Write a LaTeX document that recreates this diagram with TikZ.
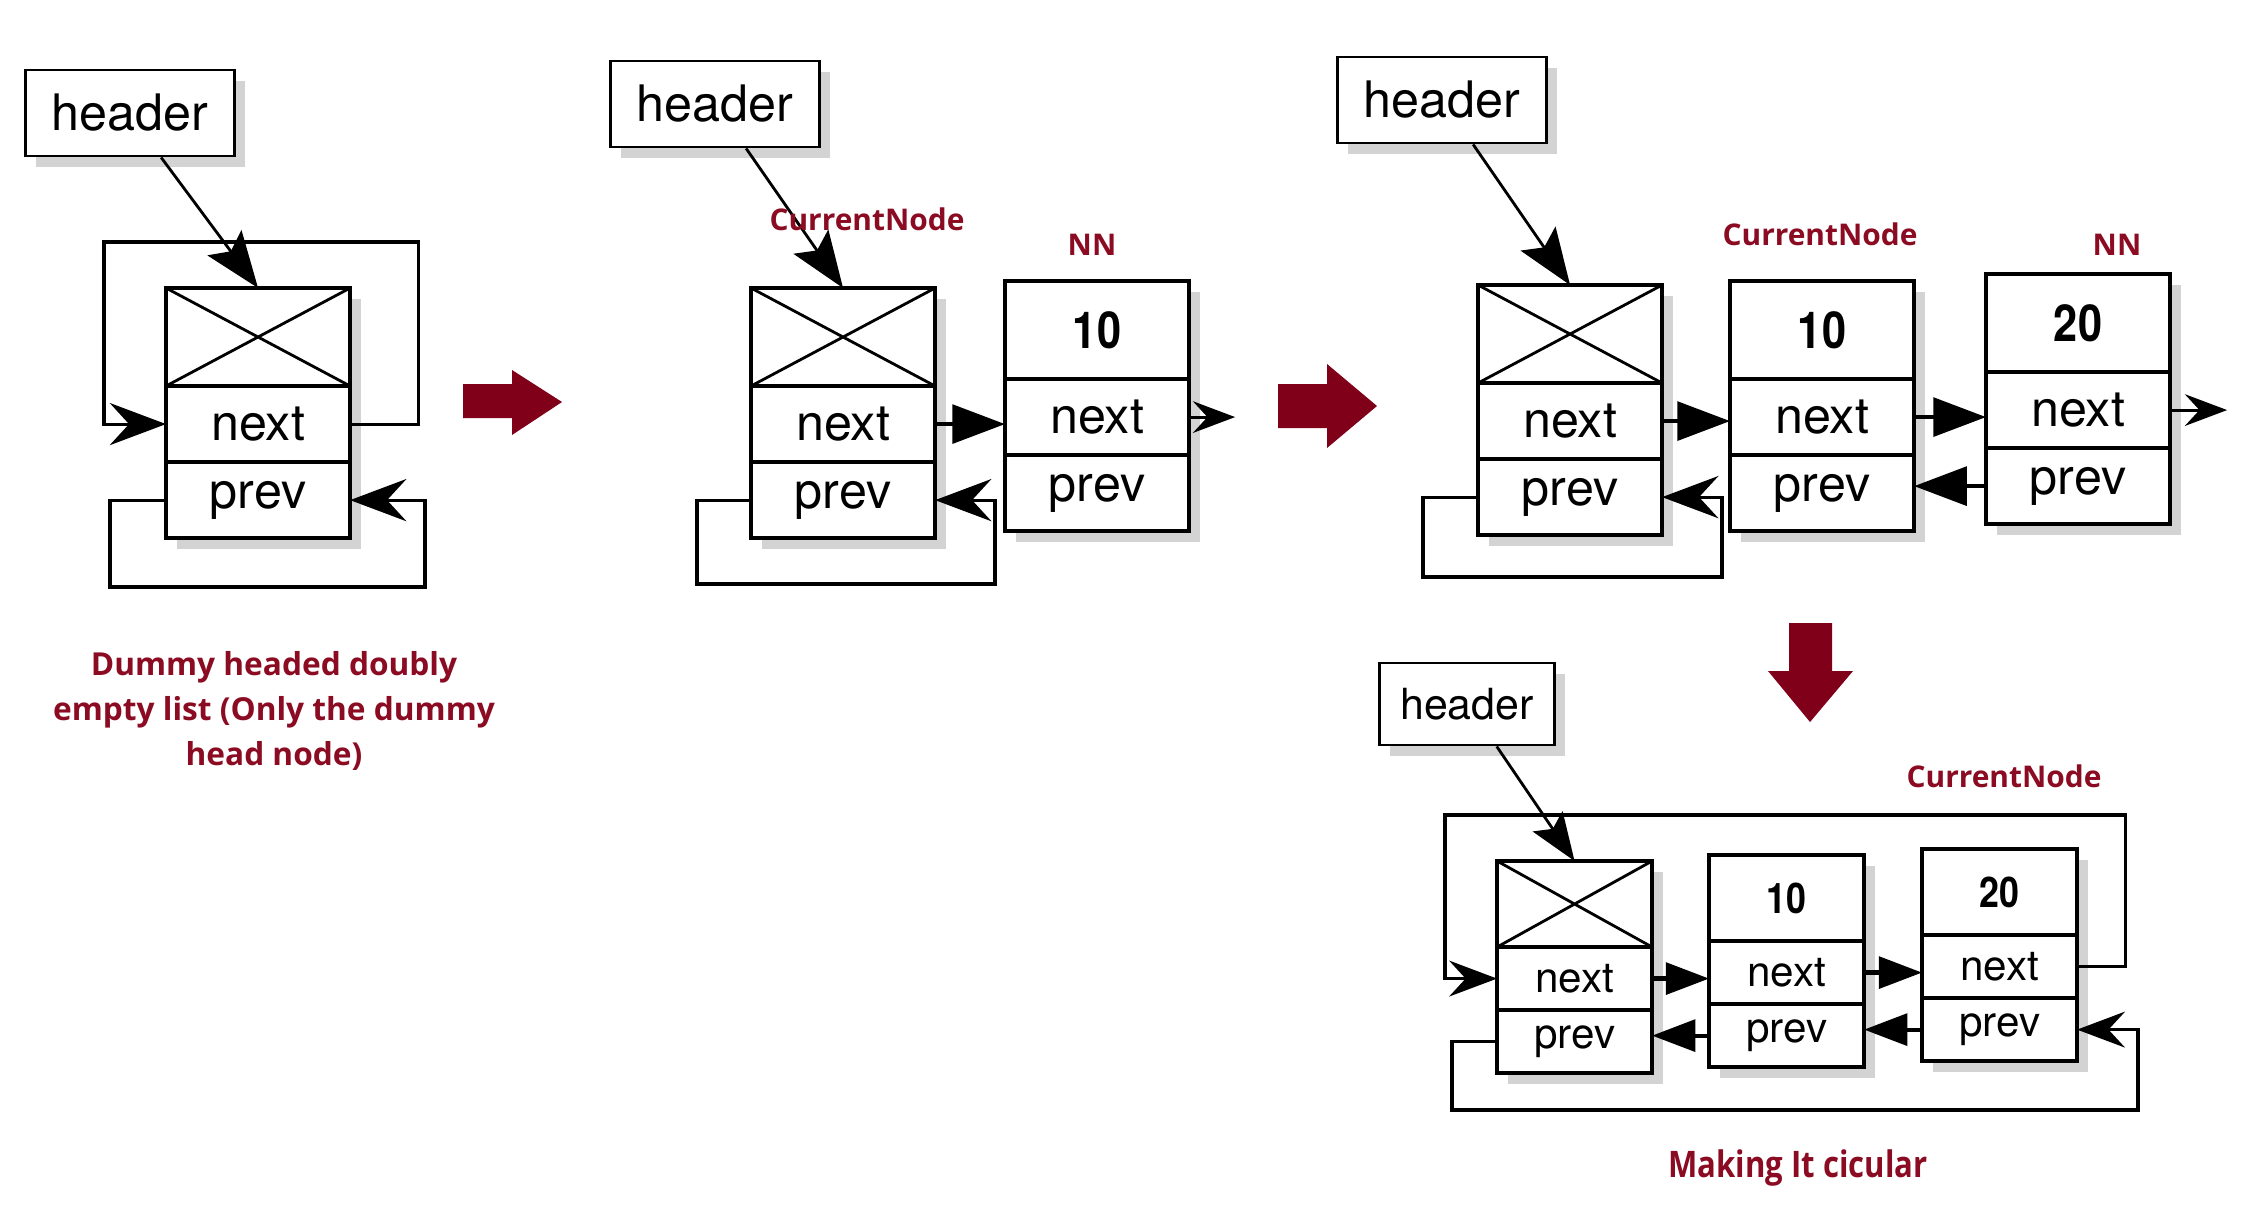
\documentclass[tikz,border=0pt]{standalone}
\usepackage{fontspec}
\usetikzlibrary{arrows.meta,positioning,shadows}
\newfontfamily\helv{TeX Gyre Heros}
\newfontfamily\numfont[FakeStretch=0.85]{TeX Gyre Heros}
\newfontfamily\redfont{Open Sans}
\newfontfamily\redcond[FakeStretch=0.85]{Open Sans}
\definecolor{ArrowClr}{RGB}{128,0,26}
\definecolor{LabelClr}{RGB}{139,12,34}
\definecolor{ShadowClr}{RGB}{80,80,80}

\newcommand\ListNode[4][]{%
  \node[datacell,#1,anchor=north west] (#2d) at (#3) {#4};
  \node[cell,below=0pt of #2d] (#2n) {next};
  \node[cell,below=0pt of #2n] (#2p) {prev};
}

\tikzset{
  soft/.style={drop shadow={opacity=0.25,shadow xshift=3pt,shadow yshift=-3pt,fill=ShadowClr}},
  hdr/.style={draw,line width=0.8pt,fill=white,minimum width=2.09cm,minimum height=0.86cm,
    font=\helv\fontsize{14.3}{16}\selectfont,soft},
  cell/.style={draw,line width=1.3pt,fill=white,outer sep=0pt,inner sep=0pt,
    minimum width=1.84cm,minimum height=0.76cm,font=\helv\fontsize{14.3}{16}\selectfont,soft},
  datacell/.style={cell,minimum height=0.98cm,font=\numfont\bfseries\fontsize{14.5}{16}\selectfont},
  crossed/.style={path picture={\draw[line width=0.8pt]
    (path picture bounding box.north west) -- (path picture bounding box.south east)
    (path picture bounding box.north east) -- (path picture bounding box.south west);}},
  tag/.style={text=LabelClr,font=\redfont\bfseries\fontsize{8.5}{10}\selectfont},
  caption/.style={tag,align=center,font=\redfont\bfseries\fontsize{9}{12.7}\selectfont},
  ptr/.style={line width=0.8pt,-{Stealth[length=16pt,width=12pt,inset=3pt,scale=#1]}},
  ptr/.default=1,
  link/.style={line width=1.2pt,-{Triangle[length=15pt,width=11pt,scale=#1]}},
  link/.default=1,
  back/.style={line width=0.9pt,-{Stealth[length=16pt,width=12pt,inset=5.5pt,scale=#1]}},
  back/.default=1,
}

\begin{document}
\begin{tikzpicture}[x=0.01cm,y=-0.01cm]
\useasboundingbox (0,0) rectangle (2261,1209);

\node[hdr] (h1) at (130,113) {header};
\ListNode[crossed]{a1}{166,288}{}
\draw[ptr] (h1.-55) -- (a1d.north);
\draw[back] (a1n.east) -- ++(68,0) |- (104,242) |- (a1n.west);
\draw[back] (a1p.west) -- ++(-56,0) |- (425,587) |- (a1p.east);
\node[caption] (cap1) at (274,711) {Dummy headed doubly\\empty list (Only the dummy\\head node)};

\fill[ArrowClr] (463,384) -- (512,384) -- (512,370) -- (562,402) -- (512,435) -- (512,418) -- (463,418) -- cycle;

\node[hdr] (h2) at (715,104) {header};
\ListNode[crossed]{b1}{751,288}{}
\ListNode{b2}{1005,281}{10}
\draw[ptr] (h2.-55) -- (b1d.north);
\node[tag] (cur2) at (867,219) {CurrentNode};
\node[tag] (nn2) at (1092,245) {NN};
\draw[link] (b1n.east) -- (b1n.east -| b2n.west);
\draw[back] (b1p.west) -- ++(-54,0) |- (995,584) |- (b1p.east);
\draw[back=0.75] (b2n.east) -- ++(46,0);

\fill[ArrowClr] (1278,384) -- (1327,384) -- (1327,364) -- (1377,406) -- (1327,448) -- (1327,428) -- (1278,428) -- cycle;

\node[hdr] (h3) at (1442,100) {header};
\ListNode[crossed]{c1}{1478,285}{}
\ListNode{c2}{1730,281}{10}
\ListNode{c3}{1986,274}{20}
\draw[ptr] (h3.-55) -- (c1d.north);
\node[tag] (cur3) at (1820,234) {CurrentNode};
\node[tag] (nn3) at (2117,245) {NN};
\draw[link] (c1n.east) -- (c1n.east -| c2n.west);
\draw[link] (c2n.east) -- (c2n.east -| c3n.west);
\draw[link] (c3p.west) -- (c3p.west -| c2p.east);
\draw[back] (c1p.west) -- ++(-55,0) |- (1722,577) |- (c1p.east);
\draw[back=0.75] (c3n.east) -- ++(57,0);

\fill[ArrowClr] (1789,623) -- (1832,623) -- (1832,671) -- (1853,671) -- (1810,722) -- (1768,671) -- (1789,671) -- cycle;

\begin{scope}[cell/.append style={minimum width=1.55cm,minimum height=0.63cm,font=\helv\fontsize{12}{14}\selectfont},
  datacell/.append style={minimum height=0.86cm,font=\numfont\bfseries\fontsize{12}{14}\selectfont},
  hdr/.append style={minimum width=1.75cm,minimum height=0.82cm,font=\helv\fontsize{12.2}{14}\selectfont}]
\node[hdr] (h4) at (1467,704) {header};
\ListNode[crossed]{d1}{1497,861}{}
\ListNode{d2}{1709,855}{10}
\ListNode{d3}{1922,849}{20}
\draw[ptr=0.85] (h4.-55) -- (d1d.north);
\node[tag] (cur4) at (2004,776) {CurrentNode};
\draw[link=0.82] (d1n.east) -- (d1n.east -| d2n.west);
\draw[link=0.82] (d2n.east) -- (d2n.east -| d3n.west);
\draw[link=0.82] (d3p.west) -- (d3p.west -| d2p.east);
\draw[link=0.82] (d2p.west) -- (d2p.west -| d1p.east);
\draw[back=0.85] (d3n.east) -- ++(48,0) |- (1445,815) |- (d1n.west);
\draw[back=0.85] (d1p.west) -- ++(-45,0) |- (2138,1110) |- (d3p.east);
\node[caption,font=\redcond\bfseries\fontsize{10.4}{12}\selectfont] (cap4) at (1798,1168) {Making It cicular};
\end{scope}
\end{tikzpicture}
\end{document}
